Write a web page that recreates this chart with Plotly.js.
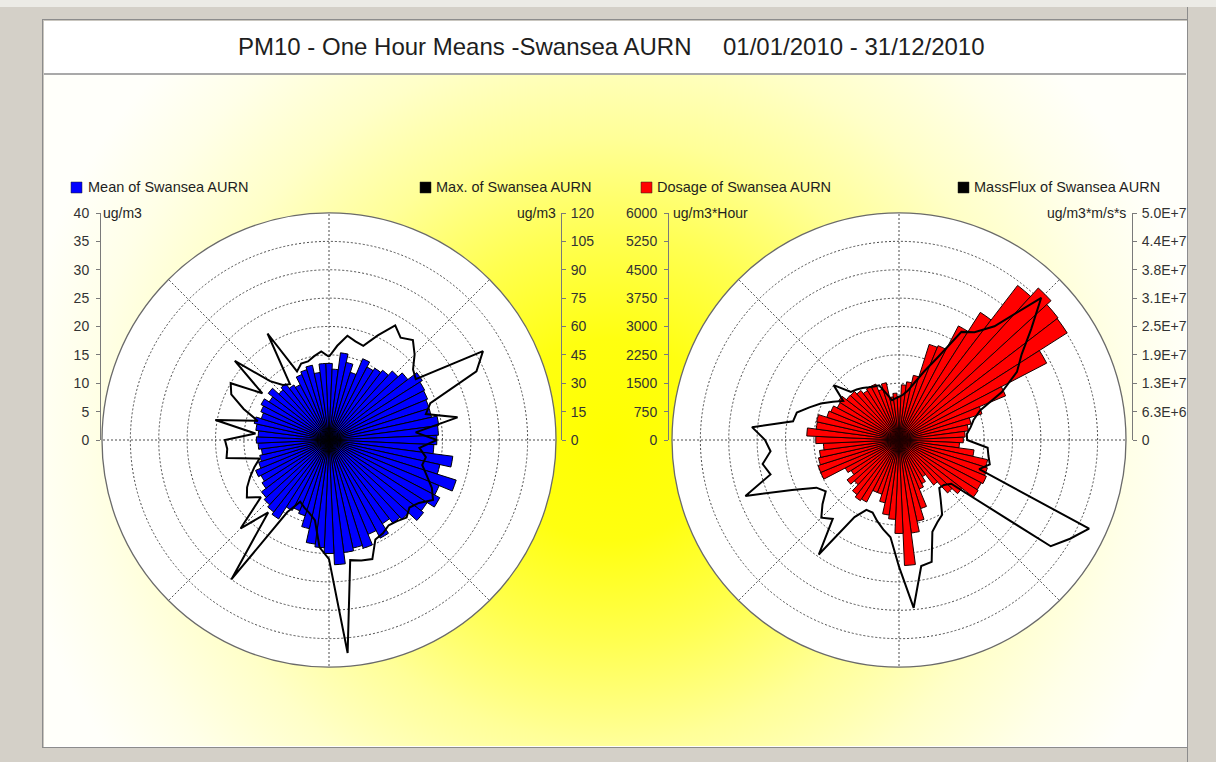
<!DOCTYPE html>
<html>
<head>
<meta charset="utf-8">
<script src="https://cdn.plot.ly/plotly-3.0.1.min.js"></script>
<style>
  html, body { margin:0; padding:0; }
  body { width:1216px; height:762px; overflow:hidden; position:relative; background:#d4d0c8; font-family:'Liberation Sans', Arial, sans-serif; }
  #topstrip { position:absolute; left:0; top:0; width:1216px; height:7px; background:#ecebe6; }
  #panel { position:absolute; left:42px; top:19px; width:1144px; height:727px; border:1px solid #8c8c8c; background:#ffffff; box-shadow: inset 1px 1px 0 #c9c6bf; }
  #titlebox { position:absolute; left:44px; top:21px; width:1142px; height:52px; background:#ffffff; border-bottom:2px solid #a9a9a9; }
  #grad { position:absolute; left:44px; top:75px; width:1142px; height:671px;
    background: radial-gradient(ellipse 600px 560px at 565px 365px, #ffff00 0%, #ffff10 18%, #ffff50 36%, #ffff98 54%, #ffffc8 71%, #ffffe8 87%, #fffffa 100%); }
  #plot { position:absolute; left:0; top:0; width:1216px; height:762px; }
  #rmask { position:absolute; left:1187px; top:7px; width:29px; height:755px; background:#d4d0c8; border-left:1px solid #8c8c8c; }
</style>
</head>
<body>
<div id="topstrip"></div>
<div id="panel"></div>
<div id="titlebox"></div>
<div id="grad"></div>
<div id="plot"></div>
<div id="rmask"></div>
<script>
// ---------------- data ----------------
const directions = [0,5,10,15,20,25,30,35,40,45,50,55,60,65,70,75,80,85,90,95,100,105,110,115,
  120,125,130,135,140,145,150,155,160,165,170,175,180,185,190,195,200,205,210,215,220,225,230,235,
  240,245,250,255,260,265,270,275,280,285,290,295,300,305,310,315,320,325,330,335,340,345,350,355];

// Mean of Swansea AURN (ug/m3)
const meanPM10 = [13.5,12.5,15.5,14.0,12.5,15.5,14.5,15.0,15.5,16.5,17.5,19.5,19.0,18.8,18.5,18.5,19.5,19.3,19.0,18.5,22.0,20.0,23.5,21.0,
  22.0,20.5,21.0,19.0,18.5,17.5,19.5,18.0,20.0,19.5,20.0,22.0,20.0,19.0,18.5,16.0,14.0,13.5,14.0,16.5,16.0,15.5,15.0,14.0,
  13.5,14.0,13.0,12.5,12.0,12.5,12.8,12.5,13.0,13.5,12.5,13.0,13.5,12.5,13.5,12.0,12.5,11.5,11.0,12.5,13.0,13.5,12.0,13.5];

// Max. of Swansea AURN (ug/m3)
const maxPM10 = [44,50,56,54,53,61,70,66,69,64,58,56,94,86,57,53,69,46,57,48,52,51,55,60,
  63.5,58,55.5,58,56,55,57,58,67,66,64.5,113,63,57,43,40,38,36,44,90,50,66,47,53,
  50,46,42,38,55,54,55,39,61,39,48,57,60,43,65,44,38,36,65,40,43,43,45,47];

// Dosage of Swansea AURN (ug/m3*Hour)
const dosagePM10 = [1150,1460,1550,1750,2650,2700,3400,4000,5150,5450,5300,5270,4400,3050,2300,1950,1850,1750,1700,1600,2000,2400,2450,2500,
  2450,2480,2100,1900,1500,1150,1300,1400,1900,2200,2480,3320,2470,2100,2000,1700,1500,1500,1850,1900,1820,1600,1730,1500,
  1600,2240,2240,2180,2120,2000,2200,2440,2210,2230,2000,1950,1840,1900,1750,1740,1650,1550,1600,1600,1410,1550,1150,1240];

// MassFlux of Swansea AURN (ug/m3*m/s*s)
const massFluxPM10 = [9.5e6,1.0e7,1.1e7,1.3e7,1.6e7,2.0e7,2.75e7,2.9e7,3.27e7,4.43e7,3.8e7,3.3e7,3.0e7,2.5e7,1.9e7,1.7e7,1.6e7,1.5e7,1.5e7,1.96e7,2.0e7,2.07e7,1.88e7,4.62e7,
  4.35e7,4.08e7,1.5e7,1.4e7,1.38e7,1.6e7,1.9e7,2.0e7,2.15e7,2.78e7,2.82e7,3.71e7,2.79e7,2.15e7,2.0e7,1.85e7,1.7e7,1.7e7,1.96e7,3.08e7,2.27e7,2.42e7,2.2e7,1.97e7,
  2.1e7,2.6e7,3.6e7,2.93e7,3.05e7,2.84e7,2.95e7,3.25e7,2.37e7,2.33e7,2.1e7,1.9e7,1.68e7,1.5e7,1.88e7,1.5e7,1.45e7,1.4e7,1.34e7,1.3e7,1.28e7,1.05e7,8.9e6,9.2e6];

// tick labels of the side scales
const meanTicks = [0,5,10,15,20,25,30,35,40];
const maxTicks = [0,15,30,45,60,75,90,105,120];
const dosageTicks = [0,750,1500,2250,3000,3750,4500,5250,6000];
const massFluxTicks = [0,6.25e6,1.25e7,1.875e7,2.5e7,3.125e7,3.75e7,4.375e7,5.0e7];
const massFluxTickText = ['0','6.3E+6','1.3E+7','1.9E+7','2.5E+7','3.1E+7','3.8E+7','4.4E+7','5.0E+7'];

const titleMain = 'PM10 - One Hour Means -Swansea AURN';
const titleDates = '01/01/2010 - 31/12/2010';
const legendNames = ['Mean of Swansea AURN','Max. of Swansea AURN','Dosage of Swansea AURN','MassFlux of Swansea AURN'];
const unitLabels = ['ug/m3','ug/m3','ug/m3*Hour','ug/m3*m/s*s'];

// ---------------- helpers ----------------
const W = 1216, H = 762;
const px = x => x / W;
const py = y => 1 - y / H;
const FONT = "'Liberation Sans', Arial, sans-serif";
const close = a => a.concat([a[0]]);

const leftDom = {x:[px(102), px(556)], y:[py(667), py(213)]};
const rightDom = {x:[px(672), px(1126)], y:[py(667), py(213)]};
const GRID = '#4a4a4a';
const DOTS = '2px,2px';

function basePolar(dom, range, dtick) {
  return {
    domain: dom,
    bgcolor: '#ffffff',
    angularaxis: {rotation:90, direction:'clockwise', tickmode:'linear', tick0:0, dtick:45,
      showticklabels:false, ticks:'', showgrid:true, gridcolor:GRID, griddash:DOTS, gridwidth:1,
      showline:true, linecolor:'#6a6a6a', linewidth:1.3},
    radialaxis: {range: range, tickmode:'linear', tick0:0, dtick:dtick, showticklabels:false, ticks:'',
      showline:false, showgrid:true, gridcolor:GRID, griddash:DOTS, gridwidth:1}
  };
}
function overlayPolar(dom, range) {
  return {
    domain: dom,
    bgcolor: 'rgba(0,0,0,0)',
    angularaxis: {rotation:90, direction:'clockwise', showticklabels:false, ticks:'', showgrid:false, showline:false},
    radialaxis: {range: range, visible:false, showgrid:false, showline:false, showticklabels:false, ticks:''}
  };
}

const traces = [
  {type:'barpolar', subplot:'polar', r: meanPM10, theta: directions, width: 5,
   marker:{color:'#0000ff', line:{color:'#000000', width:1}}, name: legendNames[0], showlegend:false, hoverinfo:'skip'},
  {type:'scatterpolar', subplot:'polar2', mode:'lines', r: close(maxPM10), theta: close(directions),
   line:{color:'#000000', width:2}, name: legendNames[1], showlegend:false, hoverinfo:'skip'},
  {type:'barpolar', subplot:'polar3', r: dosagePM10, theta: directions, width: 5,
   marker:{color:'#ff0000', line:{color:'#1a0000', width:1}}, name: legendNames[2], showlegend:false, hoverinfo:'skip'},
  {type:'scatterpolar', subplot:'polar4', mode:'lines', r: close(massFluxPM10), theta: close(directions),
   line:{color:'#000000', width:2}, name: legendNames[3], showlegend:false, hoverinfo:'skip'},
  {type:'scatter', x:[], y:[], xaxis:'x', yaxis:'y', showlegend:false, hoverinfo:'skip'},
  {type:'scatter', x:[], y:[], xaxis:'x', yaxis:'y2', showlegend:false, hoverinfo:'skip'},
  {type:'scatter', x:[], y:[], xaxis:'x', yaxis:'y3', showlegend:false, hoverinfo:'skip'},
  {type:'scatter', x:[], y:[], xaxis:'x', yaxis:'y4', showlegend:false, hoverinfo:'skip'}
];

const tickFont = {family: FONT, size: 14, color: '#333333'};
function sideAxis(pos, side, range, vals, text, overlay) {
  const a = {domain:[py(440), py(213)], range: range, anchor:'free', position: pos, side: side,
    tickmode:'array', tickvals: vals, ticktext: text,
    showline:true, linecolor:'#7a7a7a', linewidth:1, ticks:'outside', ticklen:4, tickcolor:'#7a7a7a', tickwidth:1,
    ticklabelstandoff: (side === 'left' ? 4 : 2),
    showgrid:false, zeroline:false, tickfont: tickFont, fixedrange:true};
  if (overlay) a.overlaying = 'y';
  return a;
}

const annotations = [];
function addText(text, x, y, anchor, size) {
  annotations.push({text: text, x: px(x), y: py(y), xref:'paper', yref:'paper', xanchor: anchor, yanchor:'middle',
    showarrow:false, font:{family: FONT, size: size, color:'#1e1e1e'}});
}
addText(titleMain, 236, 47, 'left', 24);
addText(titleDates, 721, 47, 'left', 24);
const legendX = [86, 434, 655, 972];
legendNames.forEach((t, i) => addText(t, legendX[i], 187, 'left', 14.5));
addText(unitLabels[0], 101, 213, 'left', 14);
addText(unitLabels[1], 558, 213, 'right', 14);
addText(unitLabels[2], 671, 213, 'left', 14);
addText(unitLabels[3], 1128, 213, 'right', 14);

const legendColors = ['#0000ff', '#000000', '#ff0000', '#000000'];
const squareX = [71, 420, 641, 958];
const shapes = squareX.map((x, i) => ({type:'rect', xref:'paper', yref:'paper',
  x0: px(x), x1: px(x + 11), y0: py(193), y1: py(182), fillcolor: legendColors[i], line:{color:'#222', width:0.5}}));

const layout = {
  width: W, height: H,
  margin: {l:0, r:0, t:0, b:0, pad:0},
  paper_bgcolor: 'rgba(0,0,0,0)', plot_bgcolor: 'rgba(0,0,0,0)',
  showlegend: false,
  font: {family: FONT, size: 14, color:'#333'},
  polar: basePolar(leftDom, [0, 40], 5),
  polar2: overlayPolar(leftDom, [0, 120]),
  polar3: basePolar(rightDom, [0, 6000], 750),
  polar4: overlayPolar(rightDom, [0, 5.0e7]),
  xaxis: {domain:[0,1], range:[0,1], visible:false, fixedrange:true},
  yaxis: sideAxis(px(100), 'left', [0,40], meanTicks, meanTicks.map(String), false),
  yaxis2: sideAxis(px(561), 'right', [0,120], maxTicks, maxTicks.map(String), true),
  yaxis3: sideAxis(px(668), 'left', [0,6000], dosageTicks, dosageTicks.map(String), true),
  yaxis4: sideAxis(px(1132), 'right', [0,5.0e7], massFluxTicks, massFluxTickText, true),
  annotations: annotations,
  shapes: shapes
};

Plotly.newPlot('plot', traces, layout, {staticPlot:true, displayModeBar:false});
</script>
</body>
</html>
